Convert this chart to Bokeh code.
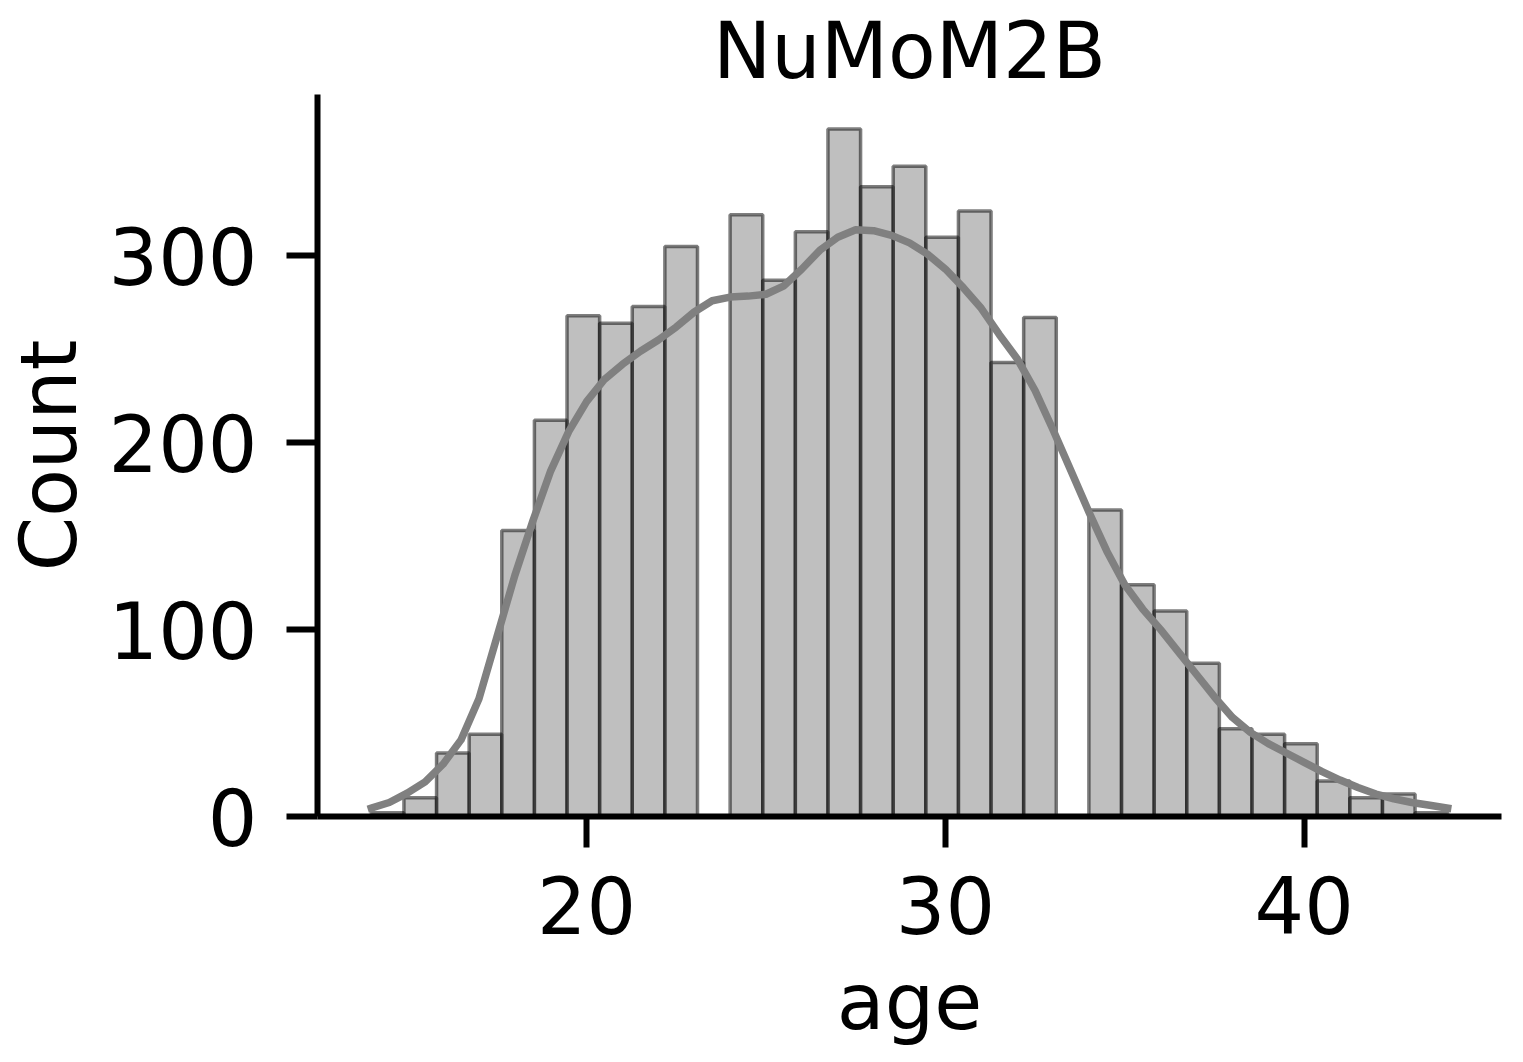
import numpy as np
from bokeh.plotting import figure
from bokeh.models import Range1d, FixedTicker, ColumnDataSource
from bokeh.embed import file_html
from bokeh.resources import INLINE

# ---------------- data ----------------
title_text = "NuMoM2B"
x_label = "age"
y_label = "Count"

age_min = 14.0
age_max = 44.0
counts = [2, 10, 34, 44, 153, 212, 268, 264, 273, 305, 0, 322, 287, 313, 368,
          337, 348, 310, 324, 243, 267, 0, 164, 124, 110, 82, 47, 44, 39, 19,
          10, 12, 2]

kde_x = [14.0, 14.5, 15.0, 15.5, 16.0, 16.5, 17.0, 17.5, 18.0, 18.5,
         19.0, 19.5, 20.0, 20.5, 21.0, 21.5, 22.0, 22.5, 23.0, 23.5,
         24.0, 24.5, 25.0, 25.5, 26.0, 26.5, 27.0, 27.5, 28.0, 28.5,
         29.0, 29.5, 30.0, 30.5, 31.0, 31.5, 32.0, 32.5, 33.0, 33.5,
         34.0, 34.5, 35.0, 35.5, 36.0, 36.5, 37.0, 37.5, 38.0, 38.5,
         39.0, 39.5, 40.0, 40.5, 41.0, 41.5, 42.0, 42.5, 43.0, 43.5, 44.0]
kde_y = [4.5, 7.5, 12.5, 18.5, 28, 41, 63, 96, 129, 158,
         185, 206, 222, 234, 242, 249, 255, 262, 270, 276,
         278, 278.5, 279.5, 284, 293, 303, 310, 314, 313.5, 311,
         307, 301, 293, 283, 272, 258, 245, 228, 207, 185,
         163, 142, 124, 111, 100, 88, 76, 64, 53, 45,
         39, 34, 29, 24, 19.5, 15.5, 12, 9.5, 7.5, 6, 4.5]

x_ticks = [20, 30, 40]
y_ticks = [0, 100, 200, 300]

# ---------------- figure ----------------
FONT = "DejaVu Sans"
FS = "78px"

edges = np.linspace(age_min, age_max, len(counts) + 1)
bars = ColumnDataSource(dict(left=edges[:-1], right=edges[1:],
                             top=counts, bottom=[0] * len(counts)))

p = figure(frame_width=1184, frame_height=722,
           x_range=Range1d(12.5, 45.5), y_range=Range1d(0, 386.4),
           output_backend="svg", toolbar_location=None,
           min_border_left=315, min_border_right=7,
           min_border_top=94, min_border_bottom=200,
           background_fill_color="white", border_fill_color="white",
           outline_line_color=None)
p.grid.visible = False

p.quad(left="left", right="right", top="top", bottom="bottom", source=bars,
       fill_color="#808080", fill_alpha=0.5,
       line_color="black", line_alpha=0.5, line_width=3.5)

p.line(kde_x, kde_y, line_color="#808080", line_width=7.5,
       line_join="round", line_cap="square")

p.xaxis.ticker = FixedTicker(ticks=x_ticks)
p.yaxis.ticker = FixedTicker(ticks=y_ticks)
p.xaxis.axis_label = x_label
p.yaxis.axis_label = y_label

for ax in (p.xaxis[0], p.yaxis[0]):
    ax.axis_line_width = 6
    ax.axis_line_color = "black"
    ax.major_tick_line_width = 6
    ax.major_tick_line_color = "black"
    ax.major_tick_out = 31
    ax.major_tick_in = 0
    ax.minor_tick_out = 0
    ax.minor_tick_in = 0
    ax.major_label_text_font = FONT
    ax.major_label_text_font_size = FS
    ax.major_label_text_color = "black"
    ax.axis_label_text_font = FONT
    ax.axis_label_text_font_size = FS
    ax.axis_label_text_font_style = "normal"
    ax.axis_label_text_color = "black"

p.yaxis.major_label_standoff = 29
p.xaxis.major_label_standoff = 28
p.yaxis.axis_label_standoff = 12
p.xaxis.axis_label_standoff = 20

p.title.text = title_text
p.title.align = "center"
p.title.text_font = FONT
p.title.text_font_size = FS
p.title.text_font_style = "normal"
p.title.text_color = "black"
p.title.standoff = -3

open("out.html", "w").write(file_html(p, INLINE))
